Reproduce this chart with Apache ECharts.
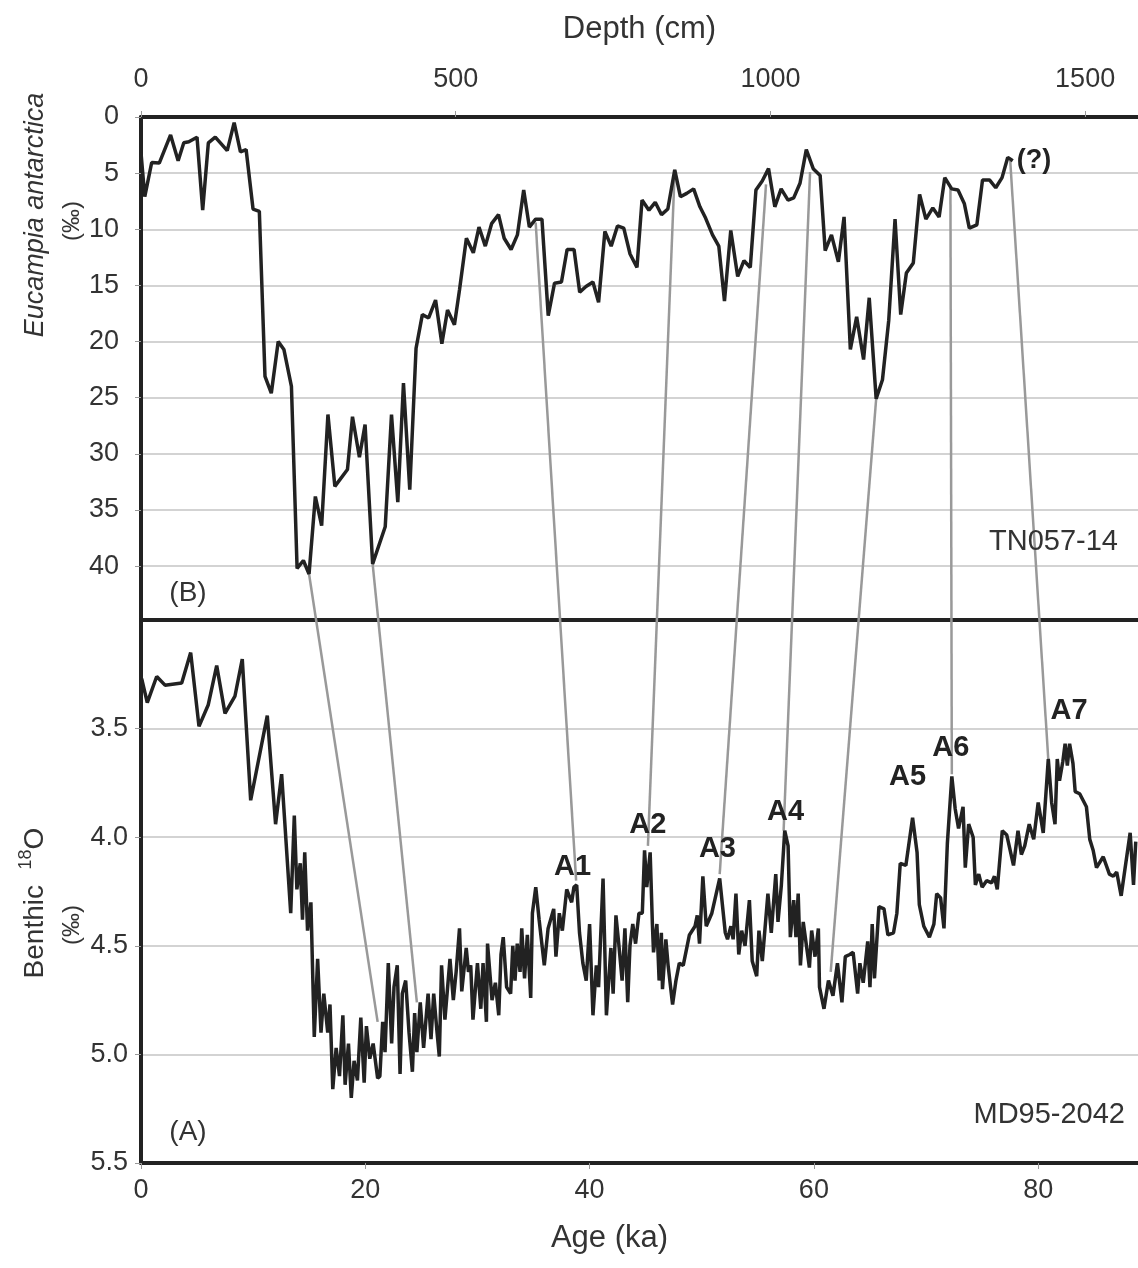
<!DOCTYPE html>
<html lang="en">
<head>
    <meta charset="UTF-8">
    <title>Eucampia antarctica vs benthic 18O</title>
    <script src="https://cdn.jsdelivr.net/npm/echarts/dist/echarts.min.js"></script>
    <style>
        body {
            margin: 0;
            background: #ffffff;
        }
        #main {
            width: 1138px;
            height: 1268px;
        }
    </style>
</head>
<body>
<div id="main"></div>

<script>
    // (B) TN057-14: Eucampia antarctica (per mil) against depth (cm)
    var depthCm = [0, 6, 17, 29, 47, 59, 68, 76, 89, 98, 107, 118, 137, 148, 158, 167, 178, 188, 197, 207,
        218, 227, 239, 248, 258, 267, 277, 287, 297, 308, 328, 336, 347, 356, 368, 388, 398, 408, 417, 427,
        437, 447, 457, 468, 478, 487, 498, 506, 517, 528, 537, 547, 557, 568, 577, 588, 598, 608, 617, 627,
        637, 647, 657, 668, 677, 688, 697, 707, 718, 727, 737, 747, 757, 767, 777, 788, 796, 807, 817, 827,
        837, 848, 857, 867, 878, 888, 897, 908, 918, 927, 937, 948, 958, 968, 977, 987, 997, 1007, 1017, 1028,
        1037, 1047, 1057, 1068, 1079, 1087, 1097, 1108, 1117, 1127, 1137, 1148, 1157, 1168, 1178, 1188, 1198, 1207, 1216, 1227,
        1237, 1247, 1258, 1268, 1277, 1288, 1298, 1308, 1316, 1328, 1337, 1348, 1358, 1368, 1377, 1385];
    var eucampia = [3.2, 7.1, 4.05, 4.1, 1.6, 3.9, 2.3, 2.2, 1.8, 8.3, 2.3, 1.8, 3.0, 0.5, 3.1, 2.9, 8.2, 8.4, 23.1, 24.6,
        20.0, 20.7, 24.0, 40.2, 39.5, 40.7, 33.8, 36.4, 26.5, 32.9, 31.4, 26.7, 30.3, 27.4, 39.8, 36.5, 26.5, 34.3, 23.7, 33.2,
        20.6, 17.6, 17.9, 16.3, 20.2, 17.2, 18.5, 15.4, 10.8, 12.1, 9.8, 11.5, 9.5, 8.7, 10.8, 11.8, 10.5, 6.5, 9.8, 9.1,
        9.1, 17.7, 14.8, 14.7, 11.8, 11.8, 15.6, 15.1, 14.7, 16.5, 10.2, 11.5, 9.7, 9.9, 12.2, 13.4, 7.4, 8.3, 7.6, 8.7,
        8.2, 4.7, 7.1, 6.8, 6.4, 8.0, 9.0, 10.5, 11.5, 16.4, 10.1, 14.2, 12.8, 13.4, 6.5, 5.7, 4.6, 8.0, 6.4, 7.4,
        7.2, 5.9, 2.9, 4.6, 5.2, 11.9, 10.5, 12.9, 8.9, 20.7, 17.8, 21.6, 16.1, 25.1, 23.4, 18.1, 9.1, 17.6, 13.9, 13.0,
        6.9, 9.1, 8.1, 8.9, 5.4, 6.4, 6.5, 7.7, 9.9, 9.6, 5.6, 5.6, 6.3, 5.4, 3.6, 3.9];

    // (A) MD95-2042: benthic 18O (per mil) against age (ka)
    var ageKa = [0.06, 0.56, 1.4, 2.14, 3.63, 4.43, 5.17, 6.0, 6.75, 7.49, 8.38, 9.03, 9.78, 11.26, 12.0, 12.54, 13.35, 13.67, 13.9, 14.2,
        14.4, 14.6, 14.85, 15.15, 15.45, 15.75, 16.05, 16.3, 16.65, 16.85, 17.1, 17.4, 17.7, 18.0, 18.2, 18.5, 18.75, 19.0, 19.3, 19.6,
        19.9, 20.1, 20.4, 20.7, 21.1, 21.3, 21.55, 21.76, 22.05, 22.35, 22.56, 22.85, 23.1, 23.3, 23.6, 23.9, 24.2, 24.4, 24.6, 24.9,
        25.2, 25.6, 25.86, 26.1, 26.4, 26.6, 26.8, 27.1, 27.55, 27.85, 28.1, 28.4, 28.6, 29.0, 29.2, 29.4, 29.6, 30.0, 30.3, 30.5,
        30.8, 30.9, 31.3, 31.6, 31.9, 32.1, 32.3, 32.6, 32.96, 33.15, 33.35, 33.55, 33.8, 33.95, 34.2, 34.45, 34.75, 34.9, 35.2, 35.5,
        35.96, 36.3, 36.8, 37.0, 37.3, 37.57, 37.96, 38.4, 38.6, 38.85, 39.1, 39.4, 39.7, 40.0, 40.3, 40.6, 40.8, 41.2, 41.5, 41.9,
        42.1, 42.35, 42.6, 42.9, 43.15, 43.4, 43.6, 43.85, 44.1, 44.4, 44.7, 44.9, 45.1, 45.4, 45.6, 45.7, 46.0, 46.2, 46.4, 46.5,
        46.8, 47.0, 47.4, 47.7, 48.0, 48.35, 48.9, 49.4, 49.6, 49.8, 50.1, 50.4, 50.9, 51.6, 52.1, 52.3, 52.6, 52.8, 53.05, 53.3,
        53.56, 53.86, 54.25, 54.5, 54.9, 55.1, 55.4, 55.9, 56.2, 56.6, 56.8, 57.1, 57.4, 57.7, 57.9, 58.2, 58.4, 58.6, 58.8, 59.05,
        59.6, 59.8, 60.1, 60.4, 60.5, 60.9, 61.3, 61.7, 62.1, 62.5, 62.8, 63.2, 63.5, 63.9, 64.1, 64.4, 64.8, 65.0, 65.2, 65.4,
        65.8, 66.25, 66.6, 67.1, 67.4, 67.7, 68.2, 68.8, 69.2, 69.4, 69.8, 70.3, 70.7, 70.95, 71.3, 71.6, 71.9, 72.3, 72.6, 72.9,
        73.3, 73.5, 73.8, 74.2, 74.4, 74.7, 75.0, 75.4, 75.85, 76.1, 76.35, 76.8, 77.2, 77.8, 78.2, 78.5, 78.8, 79.2, 79.6, 80.0,
        80.45, 80.9, 81.2, 81.5, 81.7, 81.9, 82.2, 82.4, 82.6, 82.8, 83.1, 83.3, 83.7, 84.3, 84.6, 84.9, 85.2, 85.8, 86.35, 86.7,
        87.0, 87.4, 87.7, 88.2, 88.5, 88.7];
    var d18O = [3.27, 3.38, 3.26, 3.30, 3.29, 3.15, 3.49, 3.39, 3.21, 3.43, 3.35, 3.18, 3.83, 3.44, 3.94, 3.71, 4.35, 3.90, 4.24, 4.12,
        4.38, 4.07, 4.43, 4.30, 4.92, 4.56, 4.90, 4.72, 4.90, 4.77, 5.16, 4.97, 5.10, 4.82, 5.14, 4.95, 5.20, 5.03, 5.12, 4.83,
        5.13, 4.87, 5.02, 4.95, 5.11, 5.10, 4.85, 4.99, 4.58, 4.95, 4.69, 4.59, 5.09, 4.72, 4.66, 4.90, 5.08, 4.81, 4.99, 4.76,
        4.97, 4.72, 4.93, 4.72, 4.90, 5.01, 4.59, 4.84, 4.56, 4.75, 4.62, 4.42, 4.71, 4.51, 4.62, 4.59, 4.84, 4.58, 4.79, 4.58,
        4.85, 4.49, 4.75, 4.67, 4.82, 4.54, 4.46, 4.69, 4.72, 4.50, 4.66, 4.49, 4.62, 4.42, 4.65, 4.45, 4.74, 4.35, 4.23, 4.38,
        4.59, 4.42, 4.33, 4.55, 4.35, 4.43, 4.24, 4.30, 4.23, 4.22, 4.44, 4.58, 4.66, 4.40, 4.82, 4.59, 4.69, 4.19, 4.82, 4.51,
        4.72, 4.36, 4.49, 4.66, 4.42, 4.76, 4.50, 4.40, 4.49, 4.35, 4.35, 4.06, 4.23, 4.07, 4.40, 4.53, 4.40, 4.66, 4.44, 4.70,
        4.47, 4.59, 4.77, 4.66, 4.58, 4.59, 4.45, 4.41, 4.36, 4.49, 4.18, 4.41, 4.35, 4.19, 4.44, 4.47, 4.41, 4.47, 4.26, 4.54,
        4.43, 4.50, 4.29, 4.57, 4.64, 4.43, 4.57, 4.26, 4.44, 4.17, 4.39, 4.22, 3.97, 4.04, 4.46, 4.29, 4.46, 4.26, 4.59, 4.39,
        4.60, 4.43, 4.55, 4.42, 4.69, 4.79, 4.66, 4.73, 4.58, 4.76, 4.55, 4.54, 4.53, 4.72, 4.58, 4.67, 4.48, 4.69, 4.40, 4.65,
        4.32, 4.33, 4.45, 4.44, 4.35, 4.12, 4.13, 3.91, 4.07, 4.31, 4.41, 4.46, 4.40, 4.26, 4.28, 4.42, 4.03, 3.72, 3.87, 3.96,
        3.86, 4.14, 3.94, 4.00, 4.22, 4.17, 4.23, 4.20, 4.21, 4.18, 4.24, 3.97, 3.99, 4.13, 3.97, 4.08, 4.04, 3.94, 4.01, 3.84,
        3.98, 3.64, 3.84, 3.94, 3.64, 3.74, 3.65, 3.57, 3.67, 3.57, 3.66, 3.79, 3.80, 3.86, 4.01, 4.06, 4.14, 4.09, 4.17, 4.18,
        4.16, 4.27, 4.16, 3.98, 4.22, 4.02];

    // tie points: top panel (depth, value) joined to bottom panel (age, value)
    var tieDepth = [267, 368, 627, 848, 993, 1063, 1168, 1286, 1381];
    var tieEuc = [40.7, 39.8, 9.4, 4.7, 6.0, 4.9, 25.1, 6.3, 3.9];
    var tieAge = [21.1, 24.6, 38.8, 45.2, 51.6, 57.3, 61.5, 72.3, 80.9];
    var tieD18O = [4.85, 4.76, 4.2, 4.04, 4.17, 3.97, 4.62, 3.71, 3.64];

    // event labels on the benthic record
    var eventNames = ['A1', 'A2', 'A3', 'A4', 'A5', 'A6', 'A7'];
    var eventAge = [38.48, 45.19, 51.40, 57.47, 68.35, 72.21, 82.75];
    var eventD18O = [4.136, 3.945, 4.053, 3.886, 3.724, 3.589, 3.417];

    var font = 'Liberation Sans, Arial, sans-serif';
    var ink = '#222222';
    var tickLabel = { fontFamily: font, fontSize: 27, color: '#333333' };

    var chart = echarts.init(document.getElementById('main'));

    chart.setOption({
        animation: false,
        backgroundColor: '#ffffff',
        grid: [
            { left: 141, right: 0, top: 117, height: 503 },
            { left: 141, right: 0, top: 620, height: 543 }
        ],
        xAxis: [
            {
                gridIndex: 0, type: 'value', position: 'top',
                min: 0, max: 1584, interval: 500,
                name: 'Depth (cm)', nameLocation: 'middle', nameGap: 72,
                nameTextStyle: { fontFamily: font, fontSize: 31, color: '#333333' },
                axisLine: { lineStyle: { color: ink, width: 4 } },
                axisTick: { length: 6, lineStyle: { color: '#999999' } },
                axisLabel: Object.assign({
                    margin: 24, showMaxLabel: false,
                    formatter: function (v) { return String(v); }
                }, tickLabel),
                splitLine: { show: false }
            },
            {
                gridIndex: 1, type: 'value', position: 'bottom',
                min: 0, max: 88.9, interval: 20,
                name: 'Age (ka)', nameLocation: 'middle', nameGap: 60,
                nameTextStyle: { fontFamily: font, fontSize: 31, color: '#333333', padding: [0, 60, 0, 0] },
                axisLine: { lineStyle: { color: ink, width: 4 } },
                axisTick: { length: 6, lineStyle: { color: '#999999' } },
                axisLabel: Object.assign({ margin: 14, showMaxLabel: false }, tickLabel),
                splitLine: { show: false }
            },
            {
                // frame line between the two panels
                gridIndex: 1, type: 'value', position: 'top',
                min: 0, max: 88.9,
                axisLine: { lineStyle: { color: ink, width: 4 } },
                axisTick: { show: false },
                axisLabel: { show: false },
                splitLine: { show: false }
            }
        ],
        yAxis: [
            {
                gridIndex: 0, type: 'value', inverse: true,
                min: 0, max: 44.8, interval: 5,
                axisLine: { show: true, lineStyle: { color: ink, width: 4 } },
                axisTick: { show: true, length: 6, lineStyle: { color: '#999999' } },
                axisLabel: Object.assign({ margin: 22, showMaxLabel: false }, tickLabel),
                splitLine: { lineStyle: { color: '#c4c4c4', width: 1.5 } }
            },
            {
                gridIndex: 1, type: 'value', inverse: true,
                min: 3, max: 5.5, interval: 0.5,
                axisLine: { show: true, lineStyle: { color: ink, width: 4 } },
                axisTick: { show: true, length: 6, lineStyle: { color: '#999999' } },
                axisLabel: Object.assign({
                    margin: 13, showMinLabel: false,
                    formatter: function (v) { return v.toFixed(1); }
                }, tickLabel),
                splitLine: { lineStyle: { color: '#c4c4c4', width: 1.5 } }
            }
        ],
        series: [
            {
                name: 'Eucampia antarctica',
                type: 'line', xAxisIndex: 0, yAxisIndex: 0,
                data: depthCm.map(function (d, i) { return [d, eucampia[i]]; }),
                symbol: 'none',
                lineStyle: { color: ink, width: 3.5 },
                endLabel: {
                    show: true, formatter: '(?)', distance: 4,
                    fontFamily: font, fontSize: 27, fontWeight: 'bold', color: ink
                },
                z: 3
            },
            {
                name: 'Benthic 18O',
                type: 'line', xAxisIndex: 1, yAxisIndex: 1,
                data: ageKa.map(function (a, i) { return [a, d18O[i]]; }),
                symbol: 'none',
                lineStyle: { color: ink, width: 3.5 },
                z: 3
            },
            {
                name: 'events',
                type: 'scatter', xAxisIndex: 1, yAxisIndex: 1,
                symbolSize: 0,
                itemStyle: { opacity: 1 },
                data: eventNames.map(function (n, i) { return { name: n, value: [eventAge[i], eventD18O[i]] }; }),
                label: {
                    show: true, position: 'inside', formatter: '{b}',
                    fontFamily: font, fontSize: 29, fontWeight: 'bold', color: ink
                },
                z: 4
            }
        ]
    });

    // gray tie lines across both panels, placed through the axes of each grid
    var ties = tieDepth.map(function (d, i) {
        var p1 = chart.convertToPixel({ xAxisIndex: 0, yAxisIndex: 0 }, [d, tieEuc[i]]);
        var p2 = chart.convertToPixel({ xAxisIndex: 1, yAxisIndex: 1 }, [tieAge[i], tieD18O[i]]);
        return {
            type: 'line', z: 1,
            shape: { x1: p1[0], y1: p1[1], x2: p2[0], y2: p2[1] },
            style: { stroke: '#999999', lineWidth: 2.5 }
        };
    });

    var textStyle = function (txt, size) {
        return { text: txt, fontFamily: font, fontSize: size, fill: '#333333', align: 'center', verticalAlign: 'middle' };
    };

    chart.setOption({
        graphic: ties.concat([
            // rotated axis titles
            { type: 'text', x: 35, y: 215, rotation: Math.PI / 2, z: 5,
                style: Object.assign(textStyle('Eucampia antarctica', 27), { fontStyle: 'italic' }) },
            { type: 'text', x: 72, y: 221, rotation: Math.PI / 2, z: 5, style: textStyle('(‰)', 24) },
            { type: 'text', x: 35, y: 903, rotation: Math.PI / 2, z: 5,
                style: {
                    text: '{n|Benthic  }{s|18}{n|O}', align: 'center', verticalAlign: 'middle',
                    rich: {
                        n: { fontFamily: font, fontSize: 28, fill: '#333333', lineHeight: 36 },
                        s: { fontFamily: font, fontSize: 18, fill: '#333333', lineHeight: 24, verticalAlign: 'top' }
                    }
                } },
            { type: 'text', x: 72, y: 925, rotation: Math.PI / 2, z: 5, style: textStyle('(‰)', 24) },
            // panel tags and core names
            { type: 'text', x: 188, y: 593, z: 5, style: textStyle('(B)', 28) },
            { type: 'text', x: 188, y: 1132, z: 5, style: textStyle('(A)', 28) },
            { type: 'text', x: 1118, y: 542, z: 5, style: Object.assign(textStyle('TN057-14', 29), { align: 'right' }) },
            { type: 'text', x: 1125, y: 1115, z: 5, style: Object.assign(textStyle('MD95-2042', 29), { align: 'right' }) }
        ])
    });
</script>
</body>
</html>
